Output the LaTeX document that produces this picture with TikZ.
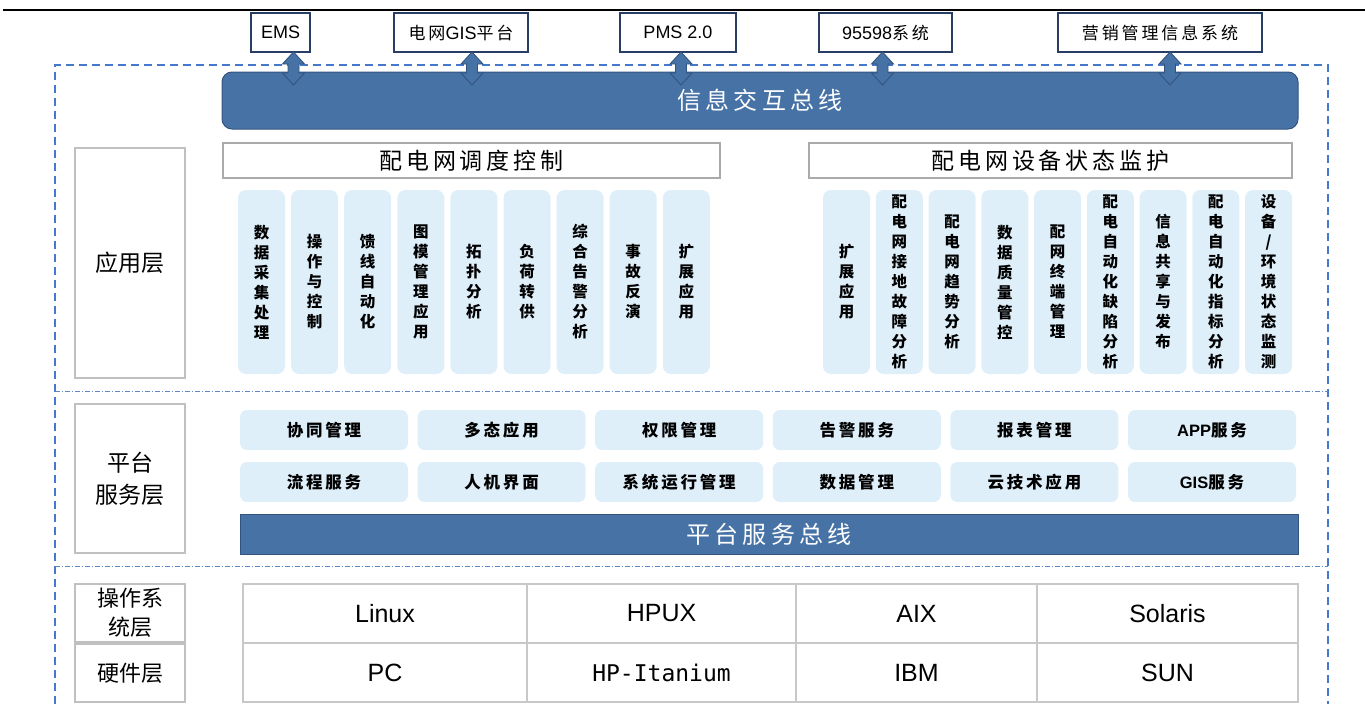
\documentclass[tikz,border=0pt]{standalone}
\usepackage{fontspec}
\setmainfont{Liberation Sans}
\newfontfamily\cjk{Noto Sans CJK SC}
\newfontfamily\cjkwide[LetterSpace=17]{Noto Sans CJK SC}
\newfontfamily\monofnt{DejaVu Sans Mono}

% stack the characters of a word one above the other
\ExplSyntaxOn
\cs_new_protected:Npn \arch_vstack:n #1
  {
    \bool_set_true:N \l_tmpa_bool
    \tl_map_inline:nn {#1}
      {
        \bool_if:NTF \l_tmpa_bool { \bool_set_false:N \l_tmpa_bool } { \\ }
        ##1
      }
  }
\NewDocumentCommand \vstack { m } { \exp_args:No \arch_vstack:n {#1} }
\ExplSyntaxOff

\definecolor{busblue}{RGB}{70,114,166}
\definecolor{busedge}{RGB}{52,84,128}
\definecolor{cellblue}{RGB}{222,239,250}
\definecolor{sysedge}{RGB}{40,62,100}
\definecolor{frameblue}{RGB}{70,120,205}
\definecolor{divblue}{RGB}{95,135,195}
\definecolor{gridgrey}{RGB}{200,200,200}
\definecolor{labelgrey}{RGB}{192,192,192}
\definecolor{groupgrey}{RGB}{170,170,170}

% box given by its corners: name, x1, y1, x2, y2, style, text
\newcommand\rbox[7]{%
  \node[#6, minimum width={(#4)-(#2)}, minimum height={(#5)-(#3)}]
    (#1) at ({((#2)+(#4))/2},{((#3)+(#5))/2}) {#7};}

% two-headed block arrow hanging from a system box down onto the bus
\newcommand\linkarrow[2]{%
  \draw[linkarrow] (#1.south) ++(#2,0) -- ++(11,12) -- ++(-5.5,0) -- ++(0,9)
    -- ++(5.5,0) -- ++(-11,12) -- ++(-11,-12) -- ++(5.5,0) -- ++(0,-9)
    -- ++(-5.5,0) -- cycle;}

\newcommand\zh[1]{{\cjkwide\fontsize{17}{20}\selectfont #1}}

\tikzset{
  base/.style={inner sep=0pt, outer sep=0pt},
  sysbox/.style={base, draw=sysedge, line width=1.3pt, fill=white,
    font=\fontsize{18}{20}\selectfont},
  bus/.style={base, fill=busblue, draw=busedge, line width=1pt, text=white,
    font=\cjkwide\fontsize{24}{28}\selectfont},
  layerlabel/.style={base, draw=labelgrey, line width=1.8pt, fill=white,
    align=center, font=\cjk\fontsize{23}{32}\selectfont},
  groupbox/.style={base, draw=groupgrey, line width=1.4pt, fill=white,
    font=\cjkwide\fontsize{23}{26}\selectfont},
  appcell/.style={base, fill=cellblue, rounded corners=8pt, align=center,
    font=\cjk\bfseries\fontsize{15.5}{20}\selectfont},
  svccell/.style={base, fill=cellblue, rounded corners=7pt,
    font=\cjkwide\bfseries\fontsize{16.5}{20}\selectfont},
  gridcell/.style={base, draw=gridgrey, line width=1.6pt,
    font=\fontsize{25}{28}\selectfont},
  linkarrow/.style={fill=busblue, draw=busedge, line width=0.9pt},
  frame/.style={draw=frameblue, line width=1.4pt, dash pattern=on 8pt off 5pt},
  divider/.style={draw=divblue, line width=0.8pt,
    dash pattern=on 5pt off 2pt on 1pt off 2pt},
}

\begin{document}
\begin{tikzpicture}[x=1pt, y=-1pt]
\useasboundingbox (0,0) rectangle (1365,704);

% rule under the heading
\draw[line width=2.5pt] (3,10) -- (1365,10);

% dashed outline of the platform and the layer separators
\draw[frame] (55,704) -- (55,65) -- (1328,65) -- (1328,704);
\draw[divider] (55,391) -- (1328,391);
\draw[divider] (55,566) -- (1328,566);

% external systems
\rbox{ems}{251}{13}{310}{52}{sysbox}{EMS}
\rbox{gis}{394}{13}{528}{52}{sysbox}{\zh{电网}GIS\zh{平台}}
\rbox{pms}{620}{13}{736}{52}{sysbox}{PMS 2.0}
\rbox{kf}{819}{13}{952}{52}{sysbox}{95598\zh{系统}}
\rbox{yx}{1058}{13}{1262}{52}{sysbox}{\zh{营销管理信息系统}}

% information exchange bus
\rbox{ibus}{222}{72}{1298}{129}{bus, rounded corners=10pt}{信息交互总线}

\linkarrow{ems}{13}
\linkarrow{gis}{11}
\linkarrow{pms}{3}
\linkarrow{kf}{-3}
\linkarrow{yx}{10}

% application layer
\rbox{lapp}{75}{148}{185}{378}{layerlabel}{应用层}
\rbox{hdisp}{223}{143}{720}{178}{groupbox}{配电网调度控制}
\rbox{hmon}{809}{143}{1292}{178}{groupbox}{配电网设备状态监护}

\foreach \t [count=\i from 0] in {数据采集处理,操作与控制,馈线自动化,图模管理应用,
    拓扑分析,负荷转供,综合告警分析,事故反演,扩展应用}{
  \pgfmathsetmacro\xa{238+53.1*\i}
  \rbox{dc\i}{\xa}{190}{\xa+47}{374}{appcell}{\vstack{\t}}
}
\foreach \t [count=\i from 0] in {扩展应用,配电网接地故障分析,配电网趋势分析,数据质量管控,
    配网终端管理,配电自动化缺陷分析,信息共享与发布,配电自动化指标分析,设备/环境状态监测}{
  \pgfmathsetmacro\xa{823+52.75*\i}
  \rbox{sm\i}{\xa}{190}{\xa+47}{374}{appcell}{\vstack{\t}}
}

% platform service layer
\rbox{lplat}{75}{404}{185}{553}{layerlabel}{平台\\服务层}
\foreach \t [count=\i from 0] in {协同管理,多态应用,权限管理,告警服务,报表管理,{{\rmfamily APP}服务}}{
  \pgfmathsetmacro\xa{240+177.6*\i}
  \rbox{sa\i}{\xa}{410}{\xa+168}{450}{svccell}{\t}
}
\foreach \t [count=\i from 0] in {流程服务,人机界面,系统运行管理,数据管理,云技术应用,{{\rmfamily GIS}服务}}{
  \pgfmathsetmacro\xa{240+177.6*\i}
  \rbox{sb\i}{\xa}{462}{\xa+168}{502}{svccell}{\t}
}
\rbox{pbus}{240}{514}{1298}{554}{bus}{平台服务总线}

% operating system and hardware layers
\rbox{los}{75}{584}{185}{642}{layerlabel, font=\cjk\fontsize{22}{29}\selectfont}{操作系\\统层}
\rbox{lhw}{75}{644}{185}{702}{layerlabel, font=\cjk\fontsize{22}{29}\selectfont}{硬件层}

\foreach \xa/\xb/\t [count=\i] in {243/527/Linux, 527/796/HPUX, 796/1037/AIX, 1037/1298/Solaris}{
  \rbox{os\i}{\xa}{584}{\xb}{643}{gridcell}{\t}
}
\foreach \xa/\xb/\t [count=\i] in {243/527/PC, 527/796/{{\monofnt\fontsize{23}{28}\selectfont HP-Itanium}},
    796/1037/IBM, 1037/1298/SUN}{
  \rbox{hw\i}{\xa}{643}{\xb}{702}{gridcell}{\t}
}
\end{tikzpicture}
\end{document}
